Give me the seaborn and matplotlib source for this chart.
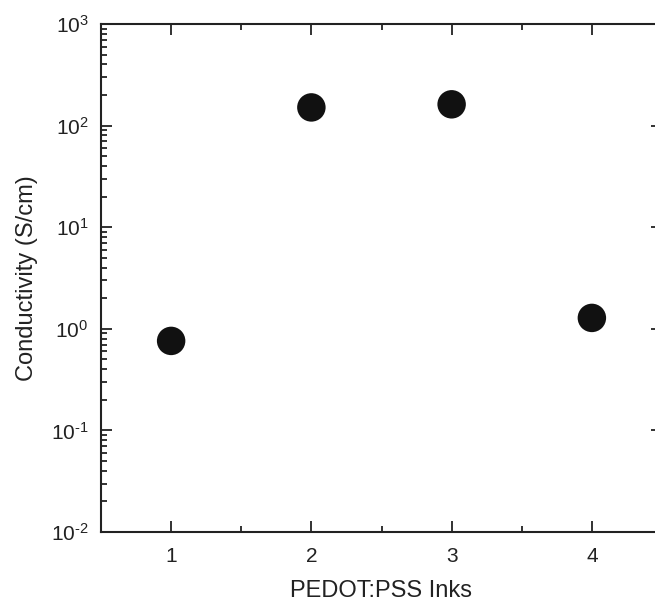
import matplotlib
matplotlib.use("Agg")
import matplotlib.pyplot as plt
import matplotlib.ticker as mticker
import seaborn as sns
import pandas as pd

inks = [1, 2, 3, 4]
conductivity = [0.76, 151, 162, 1.28]
xtick_labels = ["1", "2", "3", "4"]

sns.set_style("white")
plt.rcParams['font.family'] = ['Liberation Sans', 'DejaVu Sans']
plt.rcParams['mathtext.fontset'] = 'custom'
plt.rcParams['mathtext.rm'] = 'Liberation Sans'
plt.rcParams['mathtext.it'] = 'Liberation Sans'
plt.rcParams['axes.unicode_minus'] = False

df = pd.DataFrame({"ink": inks, "cond": conductivity})

fig = plt.figure(figsize=(6.55, 6.09), dpi=100)
W, H = 655, 609
left, right, top, bottom = 101, 662, 24, 532
ax = fig.add_axes([left / W, 1 - bottom / H, (right - left) / W, (bottom - top) / H])

sns.scatterplot(data=df, x="ink", y="cond", ax=ax, s=420, color="#111111",
                edgecolor="none", legend=False)

ax.set_yscale("log")
ax.set_ylim(1e-2, 1e3)
ax.set_xlim(0.5, 4.5)
ax.set_xticks(inks)
ax.set_xticklabels(xtick_labels)
ax.xaxis.set_minor_locator(mticker.FixedLocator([1.5, 2.5, 3.5]))
decades = [-2, -1, 0, 1, 2, 3]
def dec_label(d):
    if d < 0:
        return r"$10^{\text{-}%d}$" % (-d)
    return r"$10^{%d}$" % d
ax.yaxis.set_major_locator(mticker.FixedLocator([10.0 ** d for d in decades]))
ax.yaxis.set_major_formatter(mticker.FixedFormatter([dec_label(d) for d in decades]))
ax.yaxis.set_minor_locator(mticker.FixedLocator([m * 10.0 ** d for d in decades[:-1] for m in range(2, 10)]))
ax.yaxis.set_minor_formatter(mticker.NullFormatter())

for s in ax.spines.values():
    s.set_linewidth(1.5)
    s.set_color("#222222")

ax.tick_params(which="both", direction="in", top=True, right=True, left=True, bottom=True,
               color="#222222", width=1.3)
ax.tick_params(which="major", length=8, labelsize=15, pad=11, labelcolor="#222222")
ax.tick_params(which="minor", length=4.5)
ax.tick_params(axis="y", which="major", pad=9)

ax.set_xlabel("PEDOT:PSS Inks", fontsize=17, color="#222222", labelpad=10)
ax.set_ylabel("Conductivity (S/cm)", fontsize=17, color="#222222", labelpad=9)

fig.savefig("out.png", dpi=100)
